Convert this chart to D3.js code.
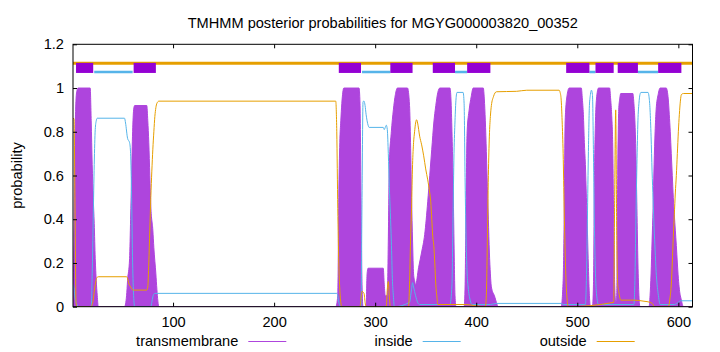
<!DOCTYPE html>
<html>
<head>
<meta charset="utf-8">
<script src="https://cdn.jsdelivr.net/npm/d3@7"></script>
<style>
  body { margin: 0; background: #fff; }
  text { font-family: "Liberation Sans", Arial, sans-serif; font-size: 14.6px; fill: #000; }
</style>
</head>
<body>
<div class="tmhmm-plot"></div>
<script>
// sequence length and axis ticks
var seqLength = 614;
var xTicks = [100, 200, 300, 400, 500, 600];
var yTicks = [0, 0.2, 0.4, 0.6, 0.8, 1, 1.2];

// predicted topology (residue ranges)
var tmSegments = [[4, 21], [61, 83], [264, 286], [315, 337], [357, 379], [391, 414], [489, 512], [518, 536], [540, 560], [580, 603]];
var insideSegments = [[22, 60], [287, 315], [379, 391], [512, 518], [560, 580]];
var outsideSegments = [[1, 614]];

// posterior probabilities [residue, p]
var tmPoints = [
  [1, 0.05], [2, 0.3], [3, 0.75], [4, 0.95], [5, 0.99], [6, 1.0], [18, 1.0], [19, 0.85], [20, 0.65], [21, 0.5], [22, 0.38], [23, 0.22], [24, 0.12], [25, 0.05], [26, 0],
  [52, 0], [54, 0.05], [55, 0.12], [57, 0.22], [58, 0.4], [59, 0.6], [60, 0.8], [61, 0.9], [62, 0.92], [74, 0.92], [75, 0.85], [76, 0.75], [77, 0.6], [78, 0.46], [80, 0.35], [81, 0.27], [83, 0.15], [84, 0.08], [86, 0],
  [261, 0], [263, 0.05], [264, 0.5], [265, 0.75], [266, 0.85], [267, 0.93], [269, 1.0], [284, 1.0], [285, 0.93], [286, 0.5], [287, 0.1], [288, 0],
  [291, 0], [292, 0.15], [293, 0.176], [308, 0.176], [309, 0.1], [310, 0.05], [312, 0.05], [313, 0.3], [314, 0.65], [316, 0.8], [318, 0.9], [320, 0.97], [322, 1.0], [332, 1.0], [334, 0.92], [335, 0.75], [336, 0.5], [337, 0.3], [338, 0.15], [339, 0.12], [340, 0.1],
  [343, 0.18], [346, 0.25], [349, 0.33], [352, 0.48], [354, 0.6], [356, 0.72], [358, 0.84], [360, 0.92], [362, 0.98], [364, 1.0], [374, 1.0], [375, 0.95], [376, 0.8], [377, 0.6], [378, 0.3], [379, 0.05], [380, 0],
  [388, 0], [389, 0.1], [390, 0.5], [391, 0.8], [393, 0.9], [395, 0.96], [397, 1.0], [407, 1.0], [408, 0.95], [409, 0.85], [410, 0.71], [411, 0.55], [412, 0.4], [413, 0.25], [414, 0.15], [415, 0.09], [418, 0.05], [422, 0],
  [484, 0], [486, 0.12], [487, 0.4], [488, 0.85], [490, 0.97], [492, 1.0], [504, 1.0], [505, 0.95], [506, 0.88], [507, 0.75], [508, 0.65], [509, 0.5], [510, 0.35], [511, 0.18], [512, 0.05], [513, 0],
  [515, 0], [516, 0.1], [517, 0.6], [518, 0.85], [519, 0.95], [521, 1.0], [532, 1.0], [533, 0.95], [534, 0.88], [535, 0.75], [536, 0.4], [537, 0.1], [538, 0.02],
  [539, 0.05], [540, 0.6], [541, 0.9], [542, 0.95], [543, 0.975], [555, 0.975], [556, 0.93], [557, 0.85], [558, 0.7], [559, 0.45], [560, 0.2], [561, 0.05], [562, 0],
  [571, 0], [572, 0.05], [573, 0.15], [574, 0.3], [575, 0.45], [576, 0.65], [577, 0.8], [578, 0.9], [580, 0.97], [582, 1.0], [588, 1.0], [590, 0.95], [591, 0.88], [592, 0.8], [593, 0.7], [594, 0.6], [595, 0.5], [596, 0.42], [597, 0.35], [598, 0.28], [599, 0.2], [600, 0.13], [601, 0.08], [603, 0.03], [605, 0], [614, 0]
];

var insidePoints = [
  [1, 0.1], [2, 0.08], [3, 0.04], [5, 0.01], [6, 0], [19, 0], [20, 0.15], [21, 0.4], [22, 0.65], [23, 0.81], [24, 0.85], [25, 0.862], [52, 0.862], [53, 0.84], [55, 0.77], [57, 0.75], [58, 0.7], [59, 0.5], [60, 0.2], [61, 0.05], [62, 0],
  [78, 0], [79, 0.02], [80, 0.045], [81, 0.058], [82, 0.061], [262, 0.061], [263, 0.05], [264, 0.02], [266, 0],
  [286, 0], [287, 0.5], [288, 0.938], [289, 0.94], [290, 0.92], [291, 0.88], [293, 0.83], [294, 0.82], [308, 0.82], [309, 0.81], [310, 0.82], [311, 0.83], [312, 0.81], [313, 0.7], [314, 0.55], [315, 0.43], [316, 0.3], [317, 0.13], [318, 0.05], [319, 0],
  [334, 0.02], [336, 0.08], [337, 0.11], [338, 0.09], [340, 0.05], [342, 0.02], [344, 0.01], [374, 0.01], [376, 0.1], [377, 0.4], [378, 0.7], [379, 0.85], [380, 0.95], [381, 0.98], [387, 0.98], [388, 0.93], [389, 0.57], [390, 0.3], [391, 0.15], [392, 0.09], [394, 0.03], [396, 0.01],
  [414, 0.01], [420, 0.015], [484, 0.015], [486, 0.01], [508, 0.01], [509, 0.12], [510, 0.4], [511, 0.71], [512, 0.92], [513, 0.97], [514, 0.99], [515, 0.97], [516, 0.7], [517, 0.35], [518, 0.15], [519, 0.06], [521, 0.01],
  [556, 0.01], [557, 0.12], [558, 0.4], [559, 0.65], [560, 0.85], [561, 0.93], [562, 0.97], [563, 0.98], [570, 0.98], [571, 0.96], [572, 0.9], [573, 0.78], [574, 0.62], [575, 0.49], [576, 0.36], [577, 0.26], [578, 0.16], [579, 0.1], [580, 0.06], [582, 0.01],
  [596, 0.01], [600, 0.02], [602, 0.027], [614, 0.027]
];

var outsidePoints = [
  [1, 0.86], [2, 0.86], [3, 0.45], [4, 0.02], [5, 0], [19, 0], [20, 0.01], [21, 0.03], [22, 0.07], [23, 0.1], [24, 0.125], [25, 0.135], [26, 0.137], [54, 0.137], [55, 0.13], [56, 0.11], [58, 0.09], [60, 0.077], [61, 0.076],
  [74, 0.076], [75, 0.09], [76, 0.2], [77, 0.35], [78, 0.5], [79, 0.62], [80, 0.72], [81, 0.8], [82, 0.87], [83, 0.91], [84, 0.93], [86, 0.94], [261, 0.94], [262, 0.8], [263, 0.45], [264, 0.2], [265, 0.08], [266, 0.02], [267, 0],
  [285, 0], [286, 0.04], [287, 0.07], [289, 0.06], [290, 0.02], [291, 0], [311, 0], [312, 0.08], [313, 0.115], [314, 0.05], [315, 0],
  [333, 0], [334, 0.1], [335, 0.3], [336, 0.45], [337, 0.65], [338, 0.75], [339, 0.8], [340, 0.84], [341, 0.855], [342, 0.84], [344, 0.78], [346, 0.74], [348, 0.69], [350, 0.63], [352, 0.58], [354, 0.52], [355, 0.48], [356, 0.4], [357, 0.32], [358, 0.28], [359, 0.2], [360, 0.1], [361, 0.05], [362, 0.01],
  [380, 0.01], [388, 0.01], [409, 0], [410, 0.05], [411, 0.3], [412, 0.6], [413, 0.78], [414, 0.87], [415, 0.92], [417, 0.96], [420, 0.983], [440, 0.985], [450, 0.99], [482, 0.99], [483, 0.98], [484, 0.95], [485, 0.85], [486, 0.7], [487, 0.45], [488, 0.25], [489, 0.1], [490, 0.03], [491, 0],
  [536, 0.02], [537, 0.5], [538, 0.9], [539, 0.35], [540, 0.1], [541, 0.07], [543, 0.03], [556, 0.03], [566, 0.025], [572, 0.02], [575, 0.01], [576, 0],
  [590, 0], [592, 0.05], [593, 0.1], [594, 0.2], [595, 0.32], [596, 0.42], [597, 0.52], [598, 0.6], [599, 0.7], [600, 0.8], [601, 0.88], [602, 0.94], [603, 0.97], [605, 0.975], [614, 0.975]
];

var COLORS = {
  tm: "#ae45dd",
  tmBox: "#9400d3",
  inside: "#56b4e9",
  outside: "#e69f00"
};

var W = 720, H = 352;
var margin = {top: 44.3, right: 27.5, bottom: 45.3, left: 73},
    width = W - margin.left - margin.right,
    height = H - margin.top - margin.bottom;

var svg = d3.select(".tmhmm-plot").append("svg")
    .attr("width", W)
    .attr("height", H);

var g = svg.append("g")
    .attr("transform", "translate(" + margin.left + "," + margin.top + ")");

var x = d3.scaleLinear().domain([1, seqLength]).range([0, width]);
var y = d3.scaleLinear().domain([0, 1.2]).range([height, 0]);

// title + y label
svg.append("text")
    .attr("x", margin.left + width / 2)
    .attr("y", 28.3)
    .style("text-anchor", "middle")
    .text("TMHMM posterior probabilities for MGYG000003820_00352");

svg.append("text")
    .attr("transform", "translate(22," + (margin.top + height / 2) + ") rotate(-90)")
    .style("text-anchor", "middle")
    .text("probability");

g.append("clipPath").attr("id", "plot-clip")
    .append("rect").attr("width", width).attr("height", height);

var plot = g.append("g").attr("clip-path", "url(#plot-clip)");

// transmembrane probability (impulses -> filled area)
var area = d3.area()
    .curve(d3.curveMonotoneX)
    .x(function (d) { return x(d[0]); })
    .y0(y(0))
    .y1(function (d) { return y(d[1]); });

plot.append("path")
    .datum(tmPoints)
    .attr("d", area)
    .attr("fill", COLORS.tm)
    .attr("stroke", COLORS.tm)
    .attr("stroke-width", 1);

var line = d3.line()
    .curve(d3.curveMonotoneX)
    .x(function (d) { return x(d[0]); })
    .y(function (d) { return y(d[1]); });

plot.append("path")
    .datum(insidePoints)
    .attr("d", line)
    .attr("fill", "none")
    .attr("stroke", COLORS.inside)
    .attr("stroke-width", 1);

plot.append("path")
    .datum(outsidePoints)
    .attr("d", line)
    .attr("fill", "none")
    .attr("stroke", COLORS.outside)
    .attr("stroke-width", 1);

// topology bars at the top
plot.selectAll(".outside-bar")
    .data(outsideSegments)
    .enter().append("line")
    .attr("class", "outside-bar")
    .attr("x1", function (d) { return x(d[0]); })
    .attr("x2", function (d) { return x(d[1]); })
    .attr("y1", y(1.113))
    .attr("y2", y(1.113))
    .attr("stroke", COLORS.outside)
    .attr("stroke-width", 3);

plot.selectAll(".inside-bar")
    .data(insideSegments)
    .enter().append("line")
    .attr("class", "inside-bar")
    .attr("x1", function (d) { return x(d[0]); })
    .attr("x2", function (d) { return x(d[1]); })
    .attr("y1", y(1.073))
    .attr("y2", y(1.073))
    .attr("stroke", COLORS.inside)
    .attr("stroke-width", 2.5);

plot.selectAll(".tm-box")
    .data(tmSegments)
    .enter().append("rect")
    .attr("class", "tm-box")
    .attr("x", function (d) { return x(d[0]); })
    .attr("width", function (d) { return x(d[1]) - x(d[0]); })
    .attr("y", y(1.115))
    .attr("height", y(1.069) - y(1.115))
    .attr("fill", COLORS.tmBox);

// axes, gnuplot style: inward ticks, mirrored
var tickLen = 4;
var xAxis = d3.axisBottom(x).tickValues(xTicks).tickSize(-tickLen).tickPadding(10);
var xAxisTop = d3.axisTop(x).tickValues(xTicks).tickSize(-tickLen).tickFormat("");
var yAxis = d3.axisLeft(y).tickValues(yTicks).tickSize(-tickLen).tickPadding(9).tickFormat(d3.format("~g"));
var yAxisRight = d3.axisRight(y).tickValues(yTicks).tickSize(-tickLen).tickFormat("");

g.append("g").attr("class", "x axis")
    .attr("transform", "translate(0," + height + ")")
    .call(xAxis);
g.append("g").attr("class", "x axis").call(xAxisTop);
g.append("g").attr("class", "y axis").call(yAxis);
g.append("g").attr("class", "y axis")
    .attr("transform", "translate(" + width + ",0)")
    .call(yAxisRight);

g.selectAll(".axis .domain").remove();
g.selectAll(".axis line").attr("stroke", "#000");
g.selectAll(".axis text")
    .style("font-family", "'Liberation Sans', Arial, sans-serif")
    .style("font-size", "14.6px")
    .attr("fill", "#000");

g.append("rect")
    .attr("width", width)
    .attr("height", height)
    .attr("fill", "none")
    .attr("stroke", "#000")
    .attr("stroke-width", 1);

// legend
var legendItems = [
  {label: "transmembrane", color: COLORS.tm, x: 238.3},
  {label: "inside", color: COLORS.inside, x: 412.7},
  {label: "outside", color: COLORS.outside, x: 586.7}
];

var legend = svg.selectAll(".legend")
    .data(legendItems)
    .enter().append("g")
    .attr("class", "legend");

legend.append("text")
    .attr("x", function (d) { return d.x; })
    .attr("y", 345.5)
    .style("text-anchor", "end")
    .text(function (d) { return d.label; });

legend.append("line")
    .attr("x1", function (d) { return d.x + 10; })
    .attr("x2", function (d) { return d.x + 48; })
    .attr("y1", 341.5)
    .attr("y2", 341.5)
    .attr("stroke", function (d) { return d.color; })
    .attr("stroke-width", 1);
</script>
</body>
</html>
